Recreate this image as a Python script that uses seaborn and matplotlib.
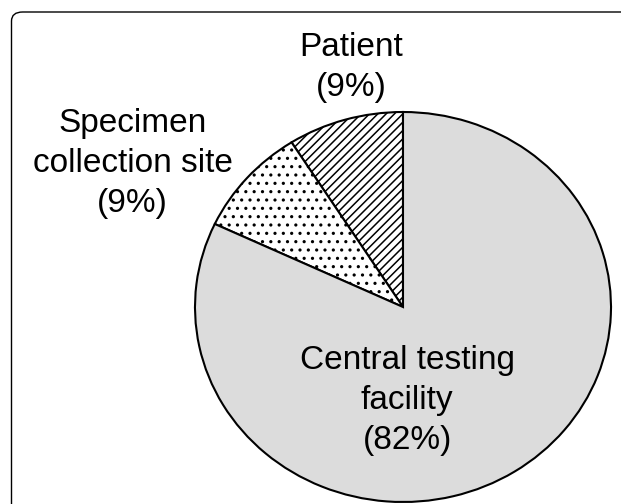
import matplotlib
matplotlib.use("Agg")
import matplotlib.pyplot as plt
import seaborn as sns
from matplotlib.patches import FancyBboxPatch

# Share of errors by location (percent)
categories = ["Patient", "Specimen\ncollection site", "Central testing\nfacility"]
shares = [9, 9, 82]
fills = ["white", "white", "#dcdcdc"]
hatches = ["////", "..", None]

# Label anchors in pie data units (pie radius = 1)
label_x = [-0.25, -1.30, 0.02]
label_y = [1.23, 0.735, -0.48]

sns.set_theme(style="white")
plt.rcParams["font.family"] = ["Liberation Sans", "DejaVu Sans"]
plt.rcParams["hatch.linewidth"] = 1.1

fig = plt.figure(figsize=(6.21, 5.04), dpi=100)

# Rounded frame around the panel (runs past right and bottom edges)
frame = FancyBboxPatch(
    (11.5 / 621, -0.2), 1.2, 1.2 - 12 / 504,
    boxstyle="round,pad=0,rounding_size=0.018",
    transform=fig.transFigure,
    facecolor="none", edgecolor="black", linewidth=1.0,
)
fig.patches.append(frame)

ax = fig.add_axes([195 / 621, 2 / 504, 416 / 621, 390 / 504])
wedges, _ = ax.pie(
    shares,
    startangle=90,
    counterclock=True,
    colors=fills,
    wedgeprops={"edgecolor": "black", "linewidth": 1.5},
)
for w, h in zip(wedges, hatches):
    if h:
        w.set_hatch(h)
    w.set_clip_on(False)

ax.set_aspect("auto")
ax.set_xlim(-1, 1)
ax.set_ylim(-1, 1)
ax.axis("off")

for name, share, x, y in zip(categories, shares, label_x, label_y):
    ax.text(
        x, y, f"{name}\n({share}%)",
        ha="center", va="center", multialignment="center",
        fontsize=24, linespacing=1.37, color="black",
    )

plt.savefig("out.png", dpi=100)
